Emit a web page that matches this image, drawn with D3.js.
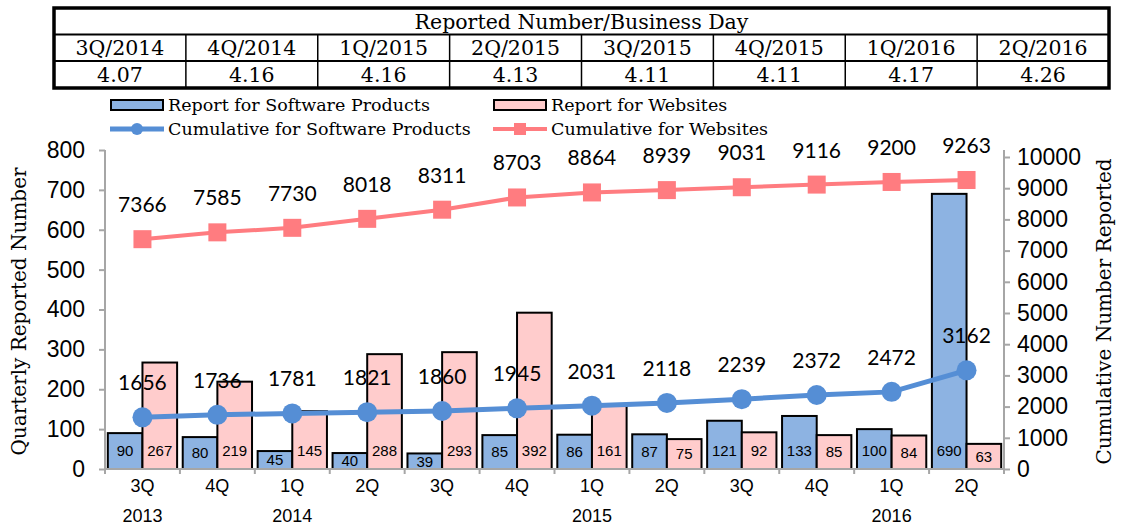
<!DOCTYPE html>
<html>
<head>
<meta charset="utf-8">
<title>Reported Number</title>
<script src="https://d3js.org/d3.v7.min.js"></script>
<style>
  body { margin: 0; background: #fff; }
  svg { display: block; }
</style>
</head>
<body>
<svg width="1121" height="527"></svg>
<script>
// data
var quarters = ["3Q", "4Q", "1Q", "2Q", "3Q", "4Q", "1Q", "2Q", "3Q", "4Q", "1Q", "2Q"];
var years = ["2013", "", "2014", "", "", "", "2015", "", "", "", "2016", ""];
var software = [90, 80, 45, 40, 39, 85, 86, 87, 121, 133, 100, 690];
var websites = [267, 219, 145, 288, 293, 392, 161, 75, 92, 85, 84, 63];
var cumSoftware = [1656, 1736, 1781, 1821, 1860, 1945, 2031, 2118, 2239, 2372, 2472, 3162];
var cumWebsites = [7366, 7585, 7730, 8018, 8311, 8703, 8864, 8939, 9031, 9116, 9200, 9263];
var leftTicks = [0, 100, 200, 300, 400, 500, 600, 700, 800];
var rightTicks = [0, 1000, 2000, 3000, 4000, 5000, 6000, 7000, 8000, 9000, 10000];
var tableTitle = "Reported Number/Business Day";
var tableQuarters = ["3Q/2014", "4Q/2014", "1Q/2015", "2Q/2015", "3Q/2015", "4Q/2015", "1Q/2016", "2Q/2016"];
var tableValues = ["4.07", "4.16", "4.16", "4.13", "4.11", "4.11", "4.17", "4.26"];

var blueFill = "#8db3e2", pinkFill = "#ffcccc";
var blueLine = "#558ed5", pinkLine = "#ff7c80";
var serif = "'DejaVu Serif', serif";
var sans = "'Liberation Sans', Arial, sans-serif";

var svg = d3.select("svg");

// ---- table on top ----
var tbl = {left: 54, right: 1109, top: 8, rows: [8, 34.5, 61, 88]};
var tg = svg.append("g");
var colX = d3.scaleBand().domain(d3.range(tableQuarters.length)).range([tbl.left, tbl.right]);

tg.append("text")
    .attr("x", (tbl.left + tbl.right) / 2).attr("y", 29)
    .attr("text-anchor", "middle")
    .style("font-family", serif).style("font-size", "20.5px")
    .text(tableTitle);

tg.selectAll(".tq").data(tableQuarters).enter().append("text")
    .attr("x", function (d, i) { return colX(i) + colX.bandwidth() / 2; })
    .attr("y", 55)
    .attr("text-anchor", "middle")
    .style("font-family", serif).style("font-size", "20.5px")
    .text(function (d) { return d; });

tg.selectAll(".tv").data(tableValues).enter().append("text")
    .attr("x", function (d, i) { return colX(i) + colX.bandwidth() / 2; })
    .attr("y", 82)
    .attr("text-anchor", "middle")
    .style("font-family", serif).style("font-size", "20.5px")
    .text(function (d) { return d; });

// inner lines
[tbl.rows[1], tbl.rows[2]].forEach(function (y) {
    tg.append("line").attr("x1", tbl.left).attr("x2", tbl.right)
        .attr("y1", y).attr("y2", y)
        .attr("stroke", "#000").attr("stroke-width", 2);
});
tg.selectAll(".tc").data(d3.range(1, tableQuarters.length)).enter().append("line")
    .attr("x1", function (i) { return colX(i); })
    .attr("x2", function (i) { return colX(i); })
    .attr("y1", tbl.rows[1]).attr("y2", tbl.rows[3])
    .attr("stroke", "#000").attr("stroke-width", 1.5);
tg.append("rect")
    .attr("x", tbl.left).attr("y", tbl.rows[0])
    .attr("width", tbl.right - tbl.left).attr("height", tbl.rows[3] - tbl.rows[0])
    .attr("fill", "none").attr("stroke", "#000").attr("stroke-width", 3.5);

// ---- legend ----
var lg = svg.append("g");
var legendItems = [
    {x: 110, y: 105, kind: "bar", fill: blueFill, label: "Report for Software Products"},
    {x: 493, y: 105, kind: "bar", fill: pinkFill, label: "Report for Websites"},
    {x: 110, y: 129, kind: "circle", fill: blueLine, label: "Cumulative for Software Products"},
    {x: 493, y: 129, kind: "square", fill: pinkLine, label: "Cumulative for Websites"}
];
legendItems.forEach(function (d) {
    if (d.kind === "bar") {
        lg.append("rect").attr("x", d.x + 1).attr("y", d.y - 5)
            .attr("width", 52).attr("height", 10)
            .attr("fill", d.fill).attr("stroke", "#000").attr("stroke-width", 2);
    } else {
        lg.append("line").attr("x1", d.x).attr("x2", d.x + 54)
            .attr("y1", d.y).attr("y2", d.y)
            .attr("stroke", d.fill).attr("stroke-width", d.kind === "circle" ? 5 : 4);
        if (d.kind === "circle") {
            lg.append("circle").attr("cx", d.x + 27).attr("cy", d.y).attr("r", 6).attr("fill", d.fill);
        } else {
            lg.append("rect").attr("x", d.x + 21).attr("y", d.y - 6)
                .attr("width", 12).attr("height", 12).attr("fill", d.fill);
        }
    }
    lg.append("text").attr("x", d.x + 58).attr("y", d.y + 6)
        .style("font-family", serif).style("font-size", "17.5px")
        .text(d.label);
});

// ---- chart ----
var plot = {left: 105, right: 1004, bottom: 469, top: 150, topRight: 157};

var x0 = d3.scaleBand()
    .domain(d3.range(quarters.length))
    .range([plot.left, plot.right])
    .paddingInner(0.075)
    .paddingOuter(0.0375);
var x1 = d3.scaleBand()
    .domain(["sw", "web"])
    .range([0, x0.bandwidth()]);
var yL = d3.scaleLinear().domain([0, 800]).range([plot.bottom, plot.top]);
var yR = d3.scaleLinear().domain([0, 10000]).range([plot.bottom, plot.topRight]);

var axisColor = "#a6a6a6";

// left axis
var leftAxis = svg.append("g")
    .attr("transform", "translate(" + plot.left + ",0)")
    .call(d3.axisLeft(yL).tickValues(leftTicks).tickSize(6).tickPadding(14).tickSizeOuter(0));
leftAxis.selectAll("text").style("font-family", sans).style("font-size", "23px").attr("fill", "#000");

// right axis
var rightAxis = svg.append("g")
    .attr("transform", "translate(" + plot.right + ",0)")
    .call(d3.axisRight(yR).tickValues(rightTicks).tickFormat(d3.format("d"))
        .tickSize(6).tickPadding(7).tickSizeOuter(0));
rightAxis.selectAll("text").style("font-family", sans).style("font-size", "23px").attr("fill", "#000");

[leftAxis, rightAxis].forEach(function (a) {
    a.selectAll("line").attr("stroke", axisColor).attr("stroke-width", 2);
    a.select(".domain").remove();
});
svg.append("line").attr("x1", plot.left).attr("x2", plot.left)
    .attr("y1", plot.top).attr("y2", plot.bottom)
    .attr("stroke", axisColor).attr("stroke-width", 2);
svg.append("line").attr("x1", plot.right).attr("x2", plot.right)
    .attr("y1", plot.top).attr("y2", plot.bottom)
    .attr("stroke", axisColor).attr("stroke-width", 2);

// axis titles
svg.append("text")
    .attr("transform", "translate(26," + ((plot.top + plot.bottom) / 2 + 2) + ") rotate(-90)")
    .attr("text-anchor", "middle")
    .style("font-family", serif).style("font-size", "20px")
    .text("Quarterly Reported Number");
svg.append("text")
    .attr("transform", "translate(1111," + ((plot.top + plot.bottom) / 2 + 2) + ") rotate(-90)")
    .attr("text-anchor", "middle")
    .style("font-family", serif).style("font-size", "20px")
    .text("Cumulative Number Reported");

// bars
var groups = svg.selectAll(".grp").data(quarters).enter().append("g")
    .attr("transform", function (d, i) { return "translate(" + x0(i) + ",0)"; });

function drawBars(values, key, fill) {
    groups.append("rect")
        .attr("x", x1(key))
        .attr("y", function (d, i) { return yL(values[i]); })
        .attr("width", x1.bandwidth())
        .attr("height", function (d, i) { return plot.bottom - yL(values[i]); })
        .attr("fill", fill).attr("stroke", "#000").attr("stroke-width", 2);
}
drawBars(software, "sw", blueFill);
drawBars(websites, "web", pinkFill);

function drawBarLabels(values, key) {
    groups.append("text")
        .attr("x", x1(key) + x1.bandwidth() / 2)
        .attr("y", function (d, i) { return yL(Math.min(values[i] / 2, 47)); })
        .attr("dy", "0.36em")
        .attr("text-anchor", "middle")
        .style("font-family", sans).style("font-size", "15px")
        .text(function (d, i) { return values[i]; });
}
drawBarLabels(software, "sw");
drawBarLabels(websites, "web");

// x axis
svg.append("line").attr("x1", plot.left).attr("x2", plot.right)
    .attr("y1", plot.bottom).attr("y2", plot.bottom)
    .attr("stroke", axisColor).attr("stroke-width", 2);
svg.selectAll(".xt").data(d3.range(quarters.length + 1)).enter().append("line")
    .attr("x1", function (i) { return plot.left + i * x0.step(); })
    .attr("x2", function (i) { return plot.left + i * x0.step(); })
    .attr("y1", plot.bottom).attr("y2", plot.bottom + 5)
    .attr("stroke", axisColor).attr("stroke-width", 2);
svg.selectAll(".xq").data(quarters).enter().append("text")
    .attr("x", function (d, i) { return x0(i) + x0.bandwidth() / 2; })
    .attr("y", 492)
    .attr("text-anchor", "middle")
    .style("font-family", sans).style("font-size", "18px")
    .text(function (d) { return d; });
svg.selectAll(".xy").data(years).enter().append("text")
    .attr("x", function (d, i) { return x0(i) + x0.bandwidth() / 2; })
    .attr("y", 522)
    .attr("text-anchor", "middle")
    .style("font-family", sans).style("font-size", "18px")
    .text(function (d) { return d; });

// lines
function cx(i) { return x0(i) + x0.bandwidth() / 2; }
var line = d3.line()
    .x(function (d, i) { return cx(i); })
    .y(function (d) { return yR(d); });

svg.append("path").datum(cumWebsites)
    .attr("d", line).attr("fill", "none")
    .attr("stroke", pinkLine).attr("stroke-width", 4);
svg.selectAll(".pw").data(cumWebsites).enter().append("rect")
    .attr("x", function (d, i) { return cx(i) - 9; })
    .attr("y", function (d) { return yR(d) - 9; })
    .attr("width", 18).attr("height", 18)
    .attr("fill", pinkLine);

svg.append("path").datum(cumSoftware)
    .attr("d", line).attr("fill", "none")
    .attr("stroke", blueLine).attr("stroke-width", 5);
svg.selectAll(".ps").data(cumSoftware).enter().append("circle")
    .attr("cx", function (d, i) { return cx(i); })
    .attr("cy", function (d) { return yR(d); })
    .attr("r", 10)
    .attr("fill", blueLine);

// line labels
function drawLineLabels(values) {
    svg.selectAll(null).data(values).enter().append("text")
        .attr("x", function (d, i) { return cx(i); })
        .attr("y", function (d) { return yR(d) - 27; })
        .attr("text-anchor", "middle")
        .style("font-family", "Lato, 'Open Sans', sans-serif").style("font-size", "21px")
        .text(function (d) { return d; });
}
drawLineLabels(cumWebsites);
drawLineLabels(cumSoftware);
</script>
</body>
</html>
